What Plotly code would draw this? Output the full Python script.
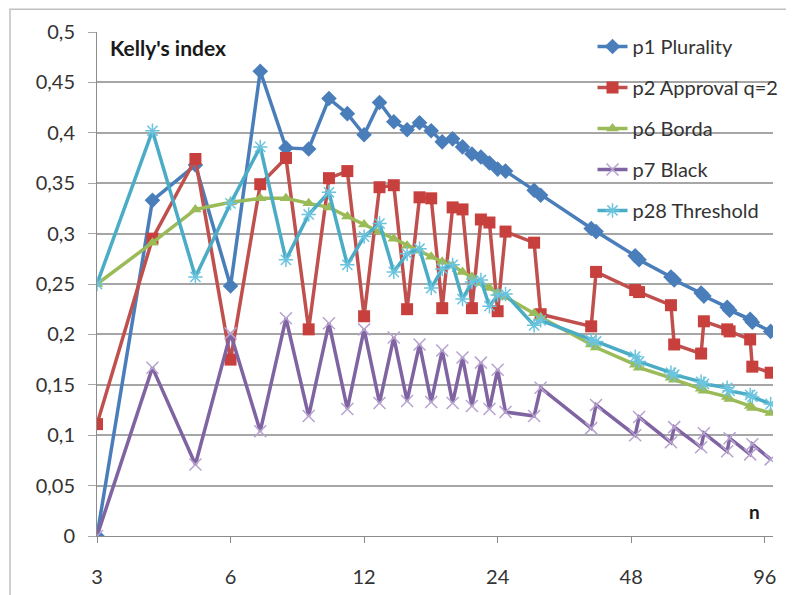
import math
import plotly.graph_objects as go

n_values = list(range(3, 26)) + [29, 30, 39, 40, 49, 50, 59, 60, 69, 70, 79, 80, 89, 90, 99]

plurality = [0, 0.333, 0.368, 0.248, 0.461, 0.385, 0.384, 0.434, 0.419, 0.398, 0.43, 0.411,
             0.403, 0.41, 0.402, 0.391, 0.394, 0.386, 0.379, 0.376, 0.37, 0.364, 0.362,
             0.343, 0.338, 0.305, 0.302, 0.278, 0.274, 0.257, 0.254, 0.241, 0.238, 0.227,
             0.224, 0.215, 0.212, 0.203]
approval = [0.111, 0.295, 0.374, 0.175, 0.349, 0.375, 0.205, 0.355, 0.362, 0.218, 0.346, 0.348,
            0.225, 0.336, 0.335, 0.226, 0.326, 0.324, 0.226, 0.314, 0.311, 0.223, 0.302,
            0.291, 0.22, 0.208, 0.262, 0.244, 0.242, 0.229, 0.19, 0.181, 0.213, 0.205,
            0.203, 0.195, 0.168, 0.162]
borda = [0.25, 0.291, 0.324, 0.331, 0.335, 0.335, 0.33, 0.326, 0.317, 0.309, 0.302, 0.295,
         0.288, 0.283, 0.277, 0.272, 0.268, 0.262, 0.257, 0.251, 0.246, 0.241, 0.237,
         0.221, 0.217, 0.19, 0.187, 0.17, 0.167, 0.157, 0.155, 0.146, 0.144, 0.138,
         0.136, 0.129, 0.127, 0.122]
black = [0, 0.167, 0.071, 0.201, 0.104, 0.216, 0.119, 0.211, 0.126, 0.205, 0.132, 0.197,
         0.134, 0.19, 0.133, 0.184, 0.132, 0.177, 0.129, 0.172, 0.126, 0.165, 0.123,
         0.119, 0.147, 0.107, 0.13, 0.1, 0.118, 0.093, 0.108, 0.088, 0.102, 0.084,
         0.097, 0.081, 0.091, 0.076]
threshold = [0.25, 0.402, 0.257, 0.33, 0.386, 0.274, 0.319, 0.341, 0.269, 0.297, 0.31, 0.262,
             0.28, 0.285, 0.246, 0.265, 0.269, 0.235, 0.252, 0.254, 0.228, 0.239, 0.24,
             0.209, 0.214, 0.194, 0.193, 0.178, 0.173, 0.162, 0.16, 0.153, 0.151, 0.147,
             0.144, 0.14, 0.138, 0.131]

series_names = ["p1 Plurality", "p2 Approval q=2", "p6 Borda", "p7 Black", "p28 Threshold"]
x_ticks = [3, 6, 12, 24, 48, 96]
y_ticks = [0, 0.05, 0.1, 0.15, 0.2, 0.25, 0.3, 0.35, 0.4, 0.45, 0.5]
y_tick_labels = ["0", "0,05", "0,1", "0,15", "0,2", "0,25", "0,3", "0,35", "0,4", "0,45", "0,5"]

FONT = "Lato, Liberation Sans, sans-serif"

styles = [
    dict(color="#4A7EBB", symbol="diamond", size=12, mcolor="#4A7EBB", lw=None),
    dict(color="#C0504D", symbol="square", size=12, mcolor="#C8403D", lw=None),
    dict(color="#9BBB59", symbol="triangle-up", size=11, mcolor="#9BBB59", lw=None),
    dict(color="#8064A2", symbol="x-thin-open", size=12, mcolor="#B7A3D0", lw=1.5),
    dict(color="#4BACC6", symbol="asterisk-open", size=12, mcolor="#6CC4DE", lw=1.5),
]

fig = go.Figure()
for name, vals, st in zip(series_names, [plurality, approval, borda, black, threshold], styles):
    marker = dict(symbol=st["symbol"], size=st["size"], color=st["mcolor"])
    if st["lw"]:
        marker["line"] = dict(color=st["mcolor"], width=st["lw"])
    else:
        marker["line"] = dict(width=0)
    fig.add_trace(go.Scatter(
        x=n_values, y=vals, name=name, mode="lines+markers",
        line=dict(color=st["color"], width=3.5),
        marker=marker, legendgroup=name,
    ))

fig.update_layout(
    width=786, height=587,
    margin=dict(l=89, r=21, t=24, b=59, autoexpand=False),
    paper_bgcolor="white", plot_bgcolor="white",
    font=dict(family=FONT, size=17, color="#333333"),
    showlegend=True,
    legend=dict(x=0.733, y=1.01, xanchor="left", yanchor="top",
                bgcolor="rgba(255,255,255,0)", font=dict(size=20, color="#333333"),
                tracegroupgap=12, itemwidth=30),
    xaxis=dict(type="log", range=[math.log10(3), math.log10(100.2)],
               tickvals=x_ticks, ticktext=[str(v) for v in x_ticks], automargin=False,
               showgrid=False, zeroline=False, showline=True, linecolor="#8c8c8c", linewidth=1,
               ticks="outside", ticklen=6, tickcolor="#8c8c8c", ticklabelstandoff=17,
               tickfont=dict(size=20, color="#333333")),
    yaxis=dict(range=[0, 0.5], tickvals=y_ticks, ticktext=y_tick_labels, automargin=False,
               showgrid=True, gridcolor="#a6a6a6", gridwidth=1.5, zeroline=False,
               showline=True, linecolor="#8c8c8c", linewidth=1,
               ticks="outside", ticklen=8, tickcolor="#a6a6a6", ticklabelstandoff=9,
               tickfont=dict(size=20, color="#333333")),
    annotations=[
        dict(text="<b>Kelly's index</b>", xref="paper", yref="paper", x=0.016, y=0.970,
             xanchor="left", yanchor="middle", showarrow=False,
             font=dict(size=21, color="#1a1a1a", family=FONT)),
        dict(text="<b>n</b>", xref="paper", yref="paper", x=0.973, y=0.048,
             xanchor="center", yanchor="middle", showarrow=False,
             font=dict(size=19, color="#1a1a1a", family=FONT)),
    ],
    shapes=[
        dict(type="line", xref="paper", yref="paper", x0=-0.13, x1=1.05, y0=1.045, y1=1.045,
             line=dict(color="#c0c0c0", width=1.5)),
        dict(type="line", xref="paper", yref="paper", x0=-0.1287, x1=-0.1287, y0=1.045, y1=-0.12,
             line=dict(color="#c0c0c0", width=1.5)),
    ],
)

fig.write_html("out.html")
